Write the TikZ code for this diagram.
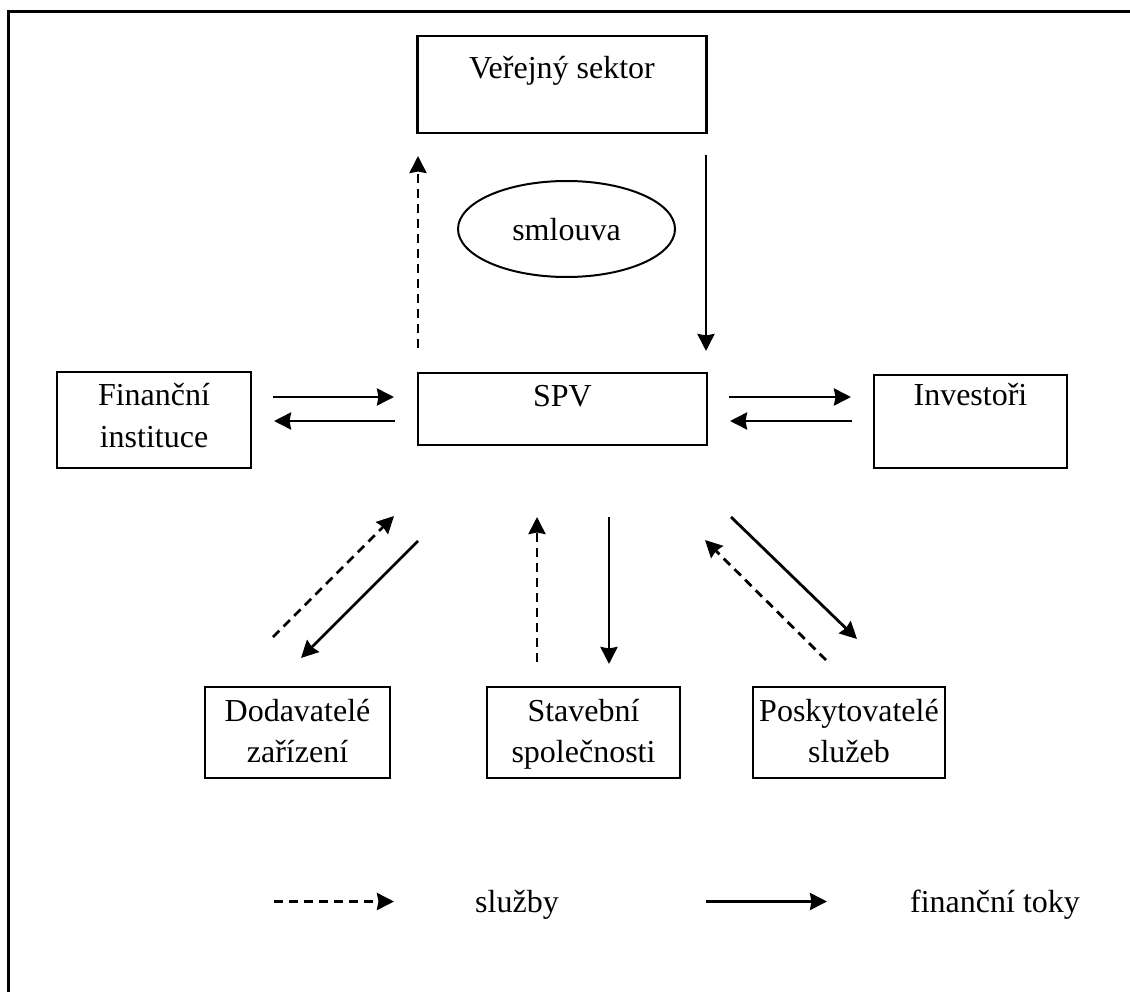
\documentclass[tikz,border=0pt]{standalone}
\usepackage{fontspec}
\setmainfont{Liberation Serif}
\usetikzlibrary{arrows.meta,shapes.geometric}

\tikzset{
  box/.style={draw, line width=2.3pt, rectangle, inner sep=0pt},
  oval/.style={draw, line width=2pt, ellipse, inner sep=0pt},
  tip/.style={-{Stealth[length=17pt,width=17pt,inset=1.5pt]}},
  money/.style={tip, line width=2.8pt},
  service/.style={tip, line width=2.8pt, dash pattern=on 9pt off 6pt},
  frameline/.style={line width=2.8pt},
  lbl/.style={anchor=base, inner sep=0pt}
}

\begin{document}
\begin{tikzpicture}[x=1pt, y=-1pt, font=\fontsize{32}{40}\selectfont]
\useasboundingbox (0,0) rectangle (1130,992);

% outer frame (top and left edges)
\coordinate (ftl) at (8.5,11.5);
\coordinate (ftr) at (1132,11.5);
\coordinate (fbl) at (8.5,994);
\draw[frameline] (ftr) -- (ftl) -- (fbl);

% boxes
\node[box, minimum width=289pt, minimum height=97pt,
      label={[lbl, yshift=-44pt]north:Veřejný sektor}] (vs) at (562,84.5) {};
\node[oval, minimum width=217pt, minimum height=96pt,
      label={[lbl, yshift=-1pt]center:smlouva}] (sml) at (566.5,229) {};
\node[box, minimum width=289pt, minimum height=72pt,
      label={[lbl, yshift=-35pt]north:SPV}] (spv) at (562.5,409) {};
\node[box, minimum width=194pt, minimum height=96pt,
      label={[lbl, yshift=-35pt]north:Finanční},
      label={[lbl, yshift=-77pt]north:instituce}] (fin) at (154,420) {};
\node[box, minimum width=193pt, minimum height=93pt,
      label={[lbl, yshift=-32pt]north:Investoři}] (inv) at (970.5,421.5) {};
\node[box, minimum width=185pt, minimum height=91pt,
      label={[lbl, yshift=-36pt]north:Dodavatelé},
      label={[lbl, yshift=-77pt]north:zařízení}] (dod) at (297.5,732.5) {};
\node[box, minimum width=193pt, minimum height=91pt,
      label={[lbl, yshift=-36pt]north:Stavební},
      label={[lbl, yshift=-77pt]north:společnosti}] (sta) at (583.5,732.5) {};
\node[box, minimum width=192pt, minimum height=91pt,
      label={[lbl, yshift=-36pt]north:Poskytovatelé},
      label={[lbl, yshift=-77pt]north:služeb}] (pos) at (849,732.5) {};

% connector end points
\coordinate (spvUp1) at (418,348);   \coordinate (vsIn) at (418,156);
\coordinate (vsOut) at (706,155);    \coordinate (spvDn1) at (706,351);
\coordinate (finR1) at (273,397);    \coordinate (spvL1) at (394,397);
\coordinate (spvL2) at (395,421);    \coordinate (finR2) at (274,421);
\coordinate (spvR1) at (729,397);    \coordinate (invL1) at (851,397);
\coordinate (invL2) at (852,421);    \coordinate (spvR2) at (730,421);
\coordinate (dodS) at (273,637);     \coordinate (spvSW1) at (394,516);
\coordinate (spvSW2) at (418,541);   \coordinate (dodT) at (301,658);
\coordinate (staS) at (537,662);     \coordinate (spvS1) at (537,517);
\coordinate (spvS2) at (609,517);    \coordinate (staT) at (609,664);
\coordinate (spvSE1) at (731,517);   \coordinate (posT) at (857,639);
\coordinate (posS) at (826,660);     \coordinate (spvSE2) at (705,540);

% flows
\draw[service] (spvUp1) -- (vsIn);
\draw[money] (vsOut) -- (spvDn1);
\draw[money] (finR1) -- (spvL1);
\draw[money] (spvL2) -- (finR2);
\draw[money] (spvR1) -- (invL1);
\draw[money] (invL2) -- (spvR2);
\draw[service] (dodS) -- (spvSW1);
\draw[money] (spvSW2) -- (dodT);
\draw[service] (staS) -- (spvS1);
\draw[money] (spvS2) -- (staT);
\draw[money] (spvSE1) -- (posT);
\draw[service] (posS) -- (spvSE2);

% legend
\coordinate (lgA) at (274,901.5);  \coordinate (lgB) at (394,901.5);
\coordinate (lgC) at (706,901.5);  \coordinate (lgD) at (827,901.5);
\draw[service] (lgA) -- (lgB);
\draw[money] (lgC) -- (lgD);
\node[lbl] (lgSvc) at (517,912) {služby};
\node[lbl] (lgFin) at (995,912) {finanční toky};
\end{tikzpicture}
\end{document}
